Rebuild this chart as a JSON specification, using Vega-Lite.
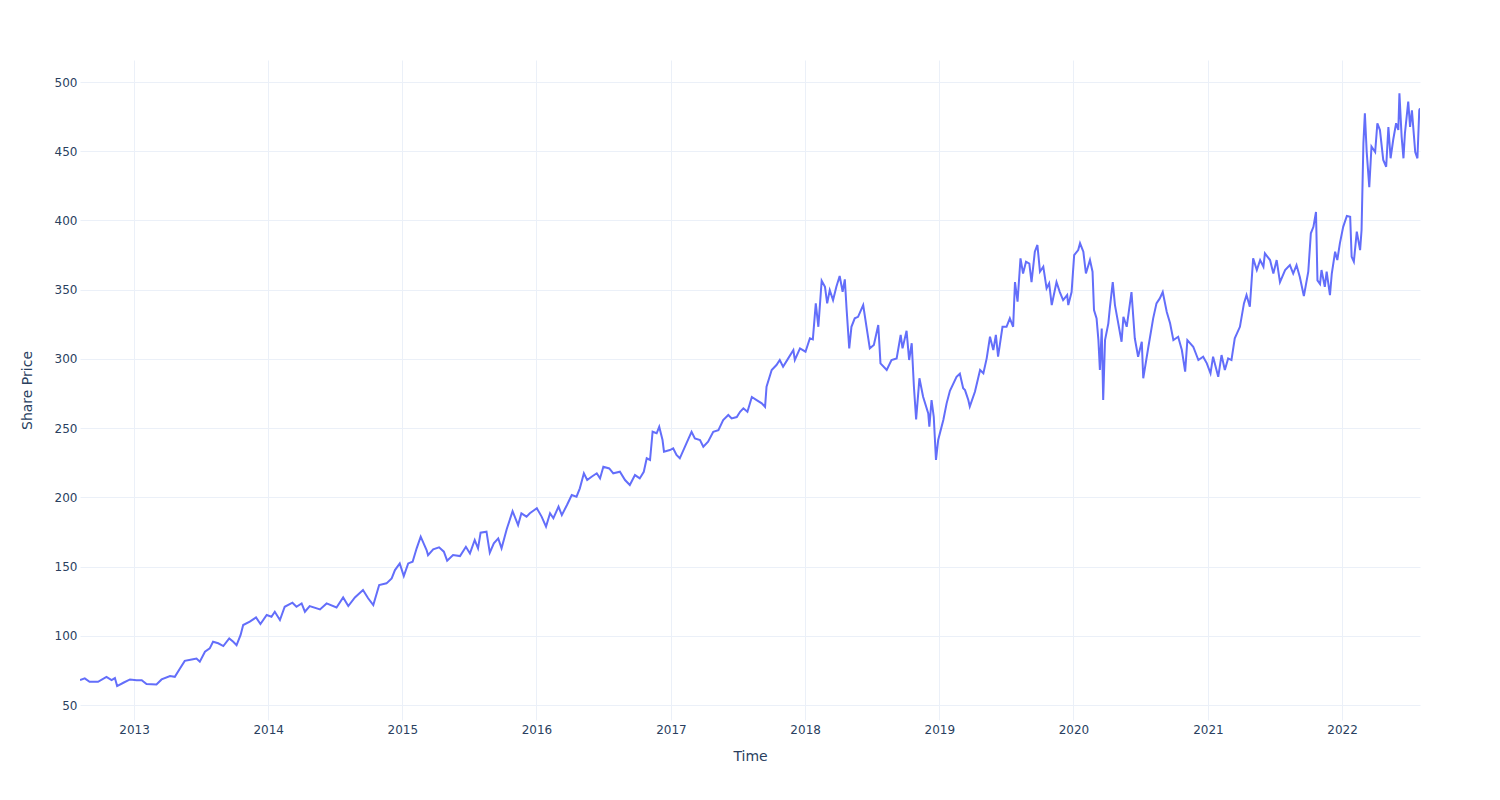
{
  "$schema": "https://vega.github.io/schema/vega-lite/v6.json",
  "width": 1340,
  "height": 660,
  "autosize": {"type": "none"},
  "padding": {"left": 80, "top": 60, "right": 80, "bottom": 80},
  "background": "white",
  "config": {
    "view": {"stroke": null},
    "font": "DejaVu Sans",
    "axis": {
      "domain": false,
      "ticks": false,
      "tickSize": 0,
      "gridColor": "#EBF0F8",
      "gridWidth": 1,
      "labelColor": "#2a3f5f",
      "labelFont": "DejaVu Sans",
      "labelFontSize": 12,
      "titleColor": "#2a3f5f",
      "titleFont": "DejaVu Sans",
      "titleFontSize": 14,
      "titleFontWeight": "normal"
    }
  },
  "data": {
    "values": [
      {"date": "2012-08-07", "price": 68.1},
      {"date": "2012-08-20", "price": 69.3},
      {"date": "2012-09-02", "price": 66.8},
      {"date": "2012-09-25", "price": 66.8},
      {"date": "2012-10-18", "price": 70.4},
      {"date": "2012-11-01", "price": 68.0},
      {"date": "2012-11-10", "price": 69.5},
      {"date": "2012-11-16", "price": 63.7},
      {"date": "2012-12-03", "price": 66.1},
      {"date": "2012-12-21", "price": 68.5},
      {"date": "2013-01-08", "price": 68.0},
      {"date": "2013-01-22", "price": 68.0},
      {"date": "2013-02-04", "price": 65.2},
      {"date": "2013-03-03", "price": 64.9},
      {"date": "2013-03-17", "price": 68.5},
      {"date": "2013-04-09", "price": 70.9},
      {"date": "2013-04-22", "price": 70.4},
      {"date": "2013-05-06", "price": 76.4},
      {"date": "2013-05-19", "price": 81.9},
      {"date": "2013-06-07", "price": 82.9},
      {"date": "2013-06-20", "price": 83.6},
      {"date": "2013-06-29", "price": 81.3},
      {"date": "2013-07-13", "price": 88.5},
      {"date": "2013-07-26", "price": 90.9},
      {"date": "2013-08-04", "price": 95.7},
      {"date": "2013-08-18", "price": 94.6},
      {"date": "2013-09-01", "price": 92.6},
      {"date": "2013-09-17", "price": 98.1},
      {"date": "2013-09-28", "price": 95.7},
      {"date": "2013-10-07", "price": 93.3},
      {"date": "2013-10-18", "price": 100.6},
      {"date": "2013-10-25", "price": 107.8},
      {"date": "2013-11-12", "price": 110.2},
      {"date": "2013-11-29", "price": 113.3},
      {"date": "2013-12-11", "price": 108.5},
      {"date": "2013-12-28", "price": 115.0},
      {"date": "2014-01-10", "price": 113.8},
      {"date": "2014-01-19", "price": 117.4},
      {"date": "2014-02-02", "price": 111.4},
      {"date": "2014-02-15", "price": 121.0},
      {"date": "2014-03-08", "price": 123.9},
      {"date": "2014-03-19", "price": 121.0},
      {"date": "2014-04-02", "price": 123.4},
      {"date": "2014-04-11", "price": 117.4},
      {"date": "2014-04-24", "price": 121.5},
      {"date": "2014-05-22", "price": 119.1},
      {"date": "2014-06-09", "price": 123.4},
      {"date": "2014-07-06", "price": 120.5},
      {"date": "2014-07-24", "price": 127.7},
      {"date": "2014-08-07", "price": 121.5},
      {"date": "2014-08-25", "price": 127.7},
      {"date": "2014-09-16", "price": 133.1},
      {"date": "2014-09-30", "price": 127.1},
      {"date": "2014-10-14", "price": 122.2},
      {"date": "2014-10-30", "price": 136.7},
      {"date": "2014-11-19", "price": 137.9},
      {"date": "2014-12-03", "price": 141.5},
      {"date": "2014-12-12", "price": 147.5},
      {"date": "2014-12-25", "price": 152.3},
      {"date": "2015-01-05", "price": 143.2},
      {"date": "2015-01-17", "price": 152.3},
      {"date": "2015-01-29", "price": 153.5},
      {"date": "2015-02-09", "price": 163.2},
      {"date": "2015-02-20", "price": 171.6},
      {"date": "2015-03-08", "price": 162.0},
      {"date": "2015-03-12", "price": 158.3},
      {"date": "2015-03-26", "price": 162.5},
      {"date": "2015-04-11", "price": 163.9},
      {"date": "2015-04-24", "price": 160.8},
      {"date": "2015-05-03", "price": 154.3},
      {"date": "2015-05-19", "price": 158.3},
      {"date": "2015-06-07", "price": 157.6},
      {"date": "2015-06-23", "price": 164.3},
      {"date": "2015-07-04", "price": 159.5},
      {"date": "2015-07-17", "price": 169.2},
      {"date": "2015-07-26", "price": 163.2},
      {"date": "2015-08-02", "price": 174.5},
      {"date": "2015-08-18", "price": 175.2},
      {"date": "2015-08-27", "price": 160.0},
      {"date": "2015-09-07", "price": 166.8},
      {"date": "2015-09-19", "price": 170.4},
      {"date": "2015-09-28", "price": 163.2},
      {"date": "2015-10-12", "price": 177.0},
      {"date": "2015-10-28", "price": 190.0},
      {"date": "2015-11-12", "price": 180.0},
      {"date": "2015-11-21", "price": 188.5},
      {"date": "2015-12-05", "price": 186.1},
      {"date": "2015-12-14", "price": 188.5},
      {"date": "2016-01-02", "price": 192.1},
      {"date": "2016-01-15", "price": 186.1},
      {"date": "2016-01-27", "price": 178.9},
      {"date": "2016-02-07", "price": 188.5},
      {"date": "2016-02-16", "price": 184.9},
      {"date": "2016-03-01", "price": 193.3},
      {"date": "2016-03-10", "price": 187.2},
      {"date": "2016-03-24", "price": 194.5},
      {"date": "2016-04-06", "price": 201.7},
      {"date": "2016-04-19", "price": 200.5},
      {"date": "2016-04-28", "price": 206.5},
      {"date": "2016-05-09", "price": 217.4},
      {"date": "2016-05-18", "price": 212.5},
      {"date": "2016-05-30", "price": 214.9},
      {"date": "2016-06-13", "price": 217.4},
      {"date": "2016-06-22", "price": 213.7},
      {"date": "2016-07-01", "price": 222.1},
      {"date": "2016-07-17", "price": 220.9},
      {"date": "2016-07-28", "price": 217.4},
      {"date": "2016-08-15", "price": 218.5},
      {"date": "2016-08-29", "price": 212.5},
      {"date": "2016-09-11", "price": 208.9},
      {"date": "2016-09-25", "price": 216.1},
      {"date": "2016-10-08", "price": 213.7},
      {"date": "2016-10-19", "price": 218.5},
      {"date": "2016-10-27", "price": 228.2},
      {"date": "2016-11-05", "price": 227.0},
      {"date": "2016-11-12", "price": 247.4},
      {"date": "2016-11-23", "price": 246.3},
      {"date": "2016-11-30", "price": 251.0},
      {"date": "2016-12-09", "price": 241.4},
      {"date": "2016-12-13", "price": 233.0},
      {"date": "2016-12-29", "price": 234.2},
      {"date": "2017-01-07", "price": 235.4},
      {"date": "2017-01-16", "price": 230.6},
      {"date": "2017-01-25", "price": 228.2},
      {"date": "2017-02-12", "price": 239.0},
      {"date": "2017-02-26", "price": 247.4},
      {"date": "2017-03-07", "price": 242.6},
      {"date": "2017-03-21", "price": 241.4},
      {"date": "2017-03-30", "price": 236.6},
      {"date": "2017-04-12", "price": 240.2},
      {"date": "2017-04-26", "price": 247.4},
      {"date": "2017-05-10", "price": 248.6},
      {"date": "2017-05-23", "price": 255.9},
      {"date": "2017-06-06", "price": 259.5},
      {"date": "2017-06-15", "price": 257.0},
      {"date": "2017-06-29", "price": 258.0},
      {"date": "2017-07-08", "price": 261.8},
      {"date": "2017-07-17", "price": 264.3},
      {"date": "2017-07-28", "price": 261.8},
      {"date": "2017-08-09", "price": 272.5},
      {"date": "2017-08-22", "price": 270.3},
      {"date": "2017-09-05", "price": 267.9},
      {"date": "2017-09-14", "price": 265.4},
      {"date": "2017-09-18", "price": 279.9},
      {"date": "2017-10-02", "price": 292.0},
      {"date": "2017-10-15", "price": 295.6},
      {"date": "2017-10-24", "price": 299.2},
      {"date": "2017-11-02", "price": 294.4},
      {"date": "2017-11-16", "price": 300.4},
      {"date": "2017-11-30", "price": 306.4},
      {"date": "2017-12-04", "price": 299.2},
      {"date": "2017-12-18", "price": 307.6},
      {"date": "2018-01-02", "price": 305.2},
      {"date": "2018-01-14", "price": 314.9},
      {"date": "2018-01-22", "price": 314.1},
      {"date": "2018-01-30", "price": 340.1},
      {"date": "2018-02-06", "price": 323.2},
      {"date": "2018-02-15", "price": 356.5},
      {"date": "2018-02-24", "price": 352.1},
      {"date": "2018-03-02", "price": 340.1},
      {"date": "2018-03-09", "price": 349.7},
      {"date": "2018-03-18", "price": 342.5},
      {"date": "2018-03-27", "price": 352.1},
      {"date": "2018-04-05", "price": 359.9},
      {"date": "2018-04-13", "price": 348.5},
      {"date": "2018-04-19", "price": 357.5},
      {"date": "2018-04-24", "price": 335.3},
      {"date": "2018-05-01", "price": 307.6},
      {"date": "2018-05-07", "price": 323.2},
      {"date": "2018-05-16", "price": 329.3},
      {"date": "2018-05-25", "price": 330.4},
      {"date": "2018-06-08", "price": 338.9},
      {"date": "2018-06-17", "price": 323.2},
      {"date": "2018-06-26", "price": 307.6},
      {"date": "2018-07-07", "price": 310.0},
      {"date": "2018-07-19", "price": 324.5},
      {"date": "2018-07-25", "price": 296.8},
      {"date": "2018-08-11", "price": 292.0},
      {"date": "2018-08-24", "price": 299.2},
      {"date": "2018-09-07", "price": 300.4},
      {"date": "2018-09-18", "price": 317.3},
      {"date": "2018-09-23", "price": 307.6},
      {"date": "2018-10-04", "price": 320.3},
      {"date": "2018-10-11", "price": 299.2},
      {"date": "2018-10-18", "price": 311.3},
      {"date": "2018-10-24", "price": 279.9},
      {"date": "2018-10-30", "price": 256.3},
      {"date": "2018-11-08", "price": 286.0},
      {"date": "2018-11-18", "price": 272.7},
      {"date": "2018-12-02", "price": 260.6},
      {"date": "2018-12-05", "price": 251.0},
      {"date": "2018-12-11", "price": 270.3},
      {"date": "2018-12-17", "price": 258.2},
      {"date": "2018-12-23", "price": 227.0},
      {"date": "2018-12-29", "price": 241.4},
      {"date": "2019-01-12", "price": 255.9},
      {"date": "2019-01-21", "price": 267.9},
      {"date": "2019-01-30", "price": 277.0},
      {"date": "2019-02-17", "price": 287.1},
      {"date": "2019-02-26", "price": 289.3},
      {"date": "2019-03-07", "price": 278.8},
      {"date": "2019-03-12", "price": 277.5},
      {"date": "2019-03-21", "price": 270.3},
      {"date": "2019-03-25", "price": 265.5},
      {"date": "2019-04-08", "price": 276.3},
      {"date": "2019-04-22", "price": 292.0},
      {"date": "2019-05-01", "price": 289.6},
      {"date": "2019-05-10", "price": 300.4},
      {"date": "2019-05-19", "price": 316.0},
      {"date": "2019-05-28", "price": 306.4},
      {"date": "2019-06-04", "price": 317.3},
      {"date": "2019-06-10", "price": 301.6},
      {"date": "2019-06-22", "price": 323.2},
      {"date": "2019-07-03", "price": 323.2},
      {"date": "2019-07-12", "price": 329.3},
      {"date": "2019-07-21", "price": 323.2},
      {"date": "2019-07-26", "price": 355.5},
      {"date": "2019-08-02", "price": 341.3},
      {"date": "2019-08-10", "price": 372.6},
      {"date": "2019-08-17", "price": 361.7},
      {"date": "2019-08-25", "price": 370.2},
      {"date": "2019-09-03", "price": 368.9},
      {"date": "2019-09-09", "price": 355.5},
      {"date": "2019-09-18", "price": 377.4},
      {"date": "2019-09-25", "price": 382.3},
      {"date": "2019-10-02", "price": 363.0},
      {"date": "2019-10-11", "price": 366.6},
      {"date": "2019-10-20", "price": 351.0},
      {"date": "2019-10-27", "price": 354.6},
      {"date": "2019-11-03", "price": 338.9},
      {"date": "2019-11-16", "price": 355.5},
      {"date": "2019-11-25", "price": 348.3},
      {"date": "2019-12-04", "price": 342.5},
      {"date": "2019-12-15", "price": 346.1},
      {"date": "2019-12-18", "price": 338.9},
      {"date": "2019-12-27", "price": 348.3},
      {"date": "2020-01-03", "price": 375.0},
      {"date": "2020-01-14", "price": 378.6},
      {"date": "2020-01-19", "price": 383.5},
      {"date": "2020-01-28", "price": 377.4},
      {"date": "2020-02-04", "price": 361.7},
      {"date": "2020-02-15", "price": 371.4},
      {"date": "2020-02-22", "price": 363.0},
      {"date": "2020-02-26", "price": 335.3},
      {"date": "2020-03-04", "price": 329.3},
      {"date": "2020-03-09", "price": 313.6},
      {"date": "2020-03-13", "price": 292.0},
      {"date": "2020-03-18", "price": 322.0},
      {"date": "2020-03-22", "price": 270.3},
      {"date": "2020-03-27", "price": 313.6},
      {"date": "2020-04-05", "price": 325.7},
      {"date": "2020-04-09", "price": 336.5},
      {"date": "2020-04-17", "price": 355.5},
      {"date": "2020-04-23", "price": 338.9},
      {"date": "2020-05-02", "price": 325.7},
      {"date": "2020-05-11", "price": 312.4},
      {"date": "2020-05-16", "price": 330.4},
      {"date": "2020-05-25", "price": 323.2},
      {"date": "2020-06-07", "price": 348.3},
      {"date": "2020-06-16", "price": 314.9},
      {"date": "2020-06-25", "price": 301.6},
      {"date": "2020-07-05", "price": 312.4},
      {"date": "2020-07-09", "price": 286.0},
      {"date": "2020-07-23", "price": 308.8},
      {"date": "2020-08-05", "price": 329.3},
      {"date": "2020-08-14", "price": 340.1},
      {"date": "2020-08-23", "price": 343.7},
      {"date": "2020-08-31", "price": 348.3},
      {"date": "2020-09-11", "price": 333.9},
      {"date": "2020-09-20", "price": 325.7},
      {"date": "2020-09-29", "price": 313.6},
      {"date": "2020-10-12", "price": 316.0},
      {"date": "2020-10-22", "price": 306.4},
      {"date": "2020-10-31", "price": 290.8},
      {"date": "2020-11-06", "price": 313.6},
      {"date": "2020-11-22", "price": 308.8},
      {"date": "2020-12-06", "price": 299.2},
      {"date": "2020-12-19", "price": 301.6},
      {"date": "2020-12-29", "price": 296.8},
      {"date": "2021-01-08", "price": 289.6},
      {"date": "2021-01-15", "price": 301.6},
      {"date": "2021-01-29", "price": 287.1},
      {"date": "2021-02-07", "price": 302.8},
      {"date": "2021-02-16", "price": 292.0},
      {"date": "2021-02-25", "price": 300.4},
      {"date": "2021-03-06", "price": 299.2},
      {"date": "2021-03-15", "price": 314.9},
      {"date": "2021-03-29", "price": 323.2},
      {"date": "2021-04-09", "price": 340.1},
      {"date": "2021-04-16", "price": 346.1},
      {"date": "2021-04-25", "price": 337.7},
      {"date": "2021-05-04", "price": 372.6},
      {"date": "2021-05-14", "price": 364.2},
      {"date": "2021-05-23", "price": 371.4},
      {"date": "2021-06-01", "price": 366.6},
      {"date": "2021-06-05", "price": 376.2},
      {"date": "2021-06-19", "price": 371.4},
      {"date": "2021-06-28", "price": 361.7},
      {"date": "2021-07-07", "price": 371.4},
      {"date": "2021-07-16", "price": 355.5},
      {"date": "2021-07-30", "price": 364.2},
      {"date": "2021-08-12", "price": 367.8},
      {"date": "2021-08-21", "price": 361.7},
      {"date": "2021-08-30", "price": 367.8},
      {"date": "2021-09-08", "price": 359.1},
      {"date": "2021-09-19", "price": 345.4},
      {"date": "2021-10-01", "price": 363.0},
      {"date": "2021-10-08", "price": 390.7},
      {"date": "2021-10-15", "price": 395.4},
      {"date": "2021-10-22", "price": 406.1},
      {"date": "2021-10-26", "price": 356.7},
      {"date": "2021-11-02", "price": 354.1},
      {"date": "2021-11-06", "price": 364.2},
      {"date": "2021-11-15", "price": 352.1},
      {"date": "2021-11-20", "price": 363.0},
      {"date": "2021-11-29", "price": 346.1},
      {"date": "2021-12-04", "price": 361.7},
      {"date": "2021-12-13", "price": 377.4},
      {"date": "2021-12-19", "price": 371.4},
      {"date": "2021-12-26", "price": 383.5},
      {"date": "2022-01-04", "price": 395.4},
      {"date": "2022-01-14", "price": 403.2},
      {"date": "2022-01-23", "price": 402.7},
      {"date": "2022-01-27", "price": 373.8},
      {"date": "2022-02-02", "price": 370.2},
      {"date": "2022-02-10", "price": 391.9},
      {"date": "2022-02-19", "price": 378.6},
      {"date": "2022-02-23", "price": 393.1},
      {"date": "2022-02-28", "price": 455.8},
      {"date": "2022-03-04", "price": 477.4},
      {"date": "2022-03-09", "price": 449.4},
      {"date": "2022-03-16", "price": 424.1},
      {"date": "2022-03-22", "price": 453.4},
      {"date": "2022-04-01", "price": 449.4},
      {"date": "2022-04-07", "price": 470.2},
      {"date": "2022-04-14", "price": 465.3},
      {"date": "2022-04-23", "price": 443.7},
      {"date": "2022-05-01", "price": 438.8},
      {"date": "2022-05-07", "price": 467.5},
      {"date": "2022-05-13", "price": 444.9},
      {"date": "2022-05-20", "price": 458.1},
      {"date": "2022-05-28", "price": 470.2},
      {"date": "2022-06-03", "price": 465.3},
      {"date": "2022-06-06", "price": 491.8},
      {"date": "2022-06-12", "price": 460.6},
      {"date": "2022-06-17", "price": 444.9},
      {"date": "2022-06-21", "price": 463.0},
      {"date": "2022-06-30", "price": 485.8},
      {"date": "2022-07-05", "price": 467.5},
      {"date": "2022-07-10", "price": 479.6},
      {"date": "2022-07-19", "price": 449.4},
      {"date": "2022-07-25", "price": 444.9},
      {"date": "2022-07-30", "price": 479.6},
      {"date": "2022-08-01", "price": 481.0}
    ]
  },
  "mark": {"type": "line", "color": "#636efa", "strokeWidth": 2, "interpolate": "linear", "clip": true},
  "encoding": {
    "x": {
      "field": "date",
      "type": "temporal",
      "title": "Time",
      "scale": {"domain": ["2012-08-07", "2022-08-01"], "nice": false},
      "axis": {
        "format": "%Y",
        "tickCount": {"interval": "year", "step": 1},
        "labelPadding": 4,
        "titlePadding": 14,
        "labelFlush": false,
        "labelOverlap": false
      }
    },
    "y": {
      "field": "price",
      "type": "quantitative",
      "title": "Share Price",
      "scale": {"domain": [39.2, 515.9], "nice": false, "zero": false},
      "axis": {
        "values": [50, 100, 150, 200, 250, 300, 350, 400, 450, 500],
        "labelPadding": 3,
        "titlePadding": 20
      }
    }
  }
}
